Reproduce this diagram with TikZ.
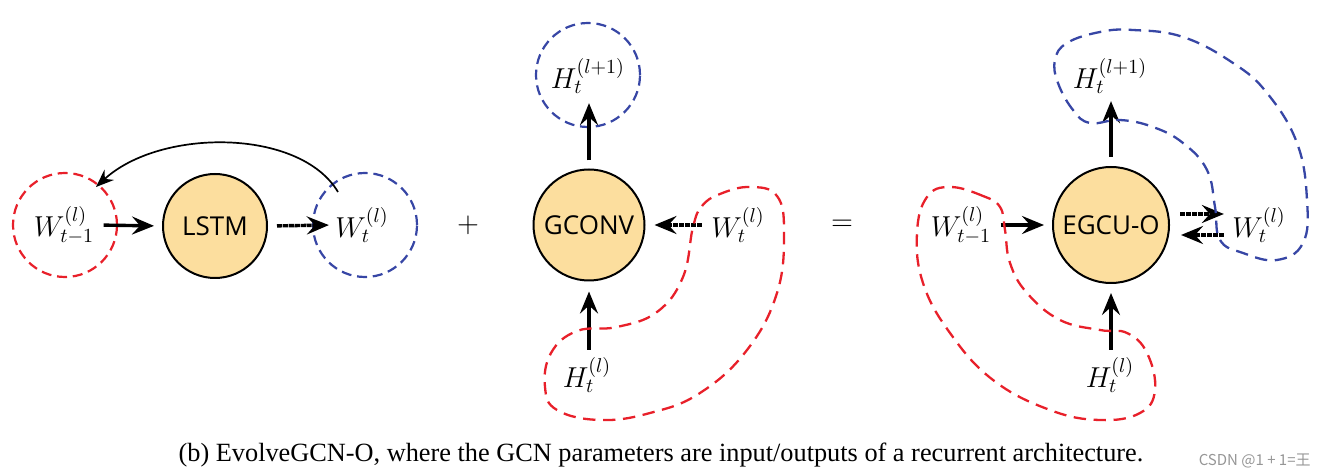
\documentclass[tikz,border=0pt]{standalone}
\usepackage[no-math]{fontspec}
\setmainfont{Liberation Serif}
\newfontfamily\nodefont{Open Sans}
\newfontfamily\cjkfont{Noto Sans CJK SC}
\usetikzlibrary{arrows.meta,calc}
\definecolor{dred}{RGB}{232,32,42}
\definecolor{dblue}{RGB}{55,70,165}
\definecolor{nfill}{RGB}{252,222,158}
\definecolor{wmgray}{RGB}{150,150,150}
\begin{document}
\begin{tikzpicture}[x=0.5pt,y=-0.5pt,
  proc/.style={circle, draw=black, line width=1pt, fill=nfill, inner sep=0pt,
    font=\nodefont\fontsize{13}{15}\selectfont},
  rcirc/.style={circle, draw=dred, line width=1.1pt, dash pattern=on 5pt off 2.9pt, minimum size=52pt, inner sep=0pt},
  bcirc/.style={circle, draw=dblue, line width=1.1pt, dash pattern=on 5pt off 2.9pt, minimum size=52pt, inner sep=0pt},
  rblob/.style={draw=dred, line width=1.15pt, dash pattern=on 6.2pt off 3.8pt},
  bblob/.style={draw=dblue, line width=1.15pt, dash pattern=on 6.2pt off 3.8pt},
  lbl/.style={font=\fontsize{14}{16}\selectfont, inner sep=0.5pt},
  arr/.style={line width=1.7pt, -{Stealth[length=11pt,width=9pt,inset=4pt]}},
  darr/.style={arr, dash pattern=on 2.6pt off 0.35pt},
  curv/.style={line width=0.85pt, -{Stealth[length=9pt,width=7pt,inset=3pt]}}
]
\useasboundingbox (0,0) rectangle (1327,475);

% ---------- left: LSTM ----------
\node[rcirc] (c1) at (65,225) {};
\node[lbl] (w1) at (64,225) {$W_{t-1}^{(l)}$};
\node[proc, minimum size=52pt] (lstm) at (215,226) {LSTM};
\node[bcirc] (c2) at (365,225) {};
\node[lbl] (w2) at (362,225) {$W_t^{(l)}$};

\draw[arr, shorten <=4pt, shorten >=4pt] (w1.east) -- (lstm.west);
\draw[darr, shorten <=4.5pt, shorten >=2.5pt] (lstm.east) -- (w2.west);
\draw[curv] ([shift={(-27,-33)}]c2.center) .. controls (300,128) and (160,128) .. ([shift={(31,-38)}]c1.center);

\node[font=\fontsize{14}{16}\selectfont] (plus) at (468,225) {$+$};

% ---------- middle: GCONV ----------
\node[bcirc] (c3) at (588,75) {};
\node[lbl] (h1) at (588,76) {$H_t^{(l+1)}$};
\node[proc, minimum size=55.5pt] (gconv) at (589,225) {GCONV};
\node[lbl] (h0) at (587,375) {$H_t^{(l)}$};
\node[lbl] (w3) at (738,225) {$W_t^{(l)}$};

\draw[arr, shorten <=4pt, shorten >=4pt] (gconv.north) -- (h1.south -| gconv.north);
\draw[arr, shorten <=3pt, shorten >=5pt] (h0.north -| gconv.south) -- (gconv.south);
\draw[darr, shorten <=4pt, shorten >=4.5pt] (w3.west) -- (gconv.east);

\draw[rblob] plot[smooth cycle, tension=0.7] coordinates {
  (693,227) (702,206) (720,194) (750,187) (777,196) (784,233) (777,293)
  (747,350) (700,393) (650,413) (600,420) (557,410) (545,387) (551,353)
  (577,331) (617,327) (657,312) (683,277)};

\node[font=\fontsize{14}{16}\selectfont] (eq) at (842,225) {$=$};

% ---------- right: EGCU-O ----------
\node[lbl] (w4) at (961,225) {$W_{t-1}^{(l)}$};
\node[proc, minimum size=58pt] (egcu) at (1111,225) {EGCU-O};
\node[lbl] (h3) at (1110,76) {$H_t^{(l+1)}$};
\node[lbl] (h2) at (1110,375) {$H_t^{(l)}$};
\node[lbl] (w5) at (1259,225) {$W_t^{(l)}$};

\draw[arr, shorten <=4pt, shorten >=4pt] (w4.east) -- (egcu.west);
\draw[arr, shorten <=4.5pt, shorten >=3pt] (egcu.north) -- (h3.south -| egcu.north);
\draw[arr, shorten <=3pt, shorten >=4.5pt] (h2.north -| egcu.south) -- (egcu.south);
\draw[darr, shorten <=5pt, shorten >=3.5pt] ([yshift=5.5pt]egcu.east) -- ([yshift=5.5pt]egcu.east -| w5.west);
\draw[darr, shorten <=3.5pt, shorten >=5.5pt] ([yshift=-5pt]egcu.east -| w5.west) -- ([yshift=-5pt]egcu.east);

\draw[bblob] plot[smooth cycle, tension=0.7] coordinates {
  (1090,123) (1073,110) (1058,83) (1055,60) (1067,43) (1100,32) (1133,30)
  (1183,37) (1233,63) (1267,93) (1297,143) (1307,200) (1303,243) (1277,260)
  (1243,253) (1220,240) (1215,207) (1207,170) (1183,143) (1153,127) (1120,120)};

\draw[rblob] plot[smooth cycle, tension=0.7] coordinates {
  (1000,207) (983,196) (950,187) (927,197) (917,233) (923,283) (950,333)
  (993,380) (1050,410) (1100,420) (1140,413) (1155,390) (1147,353) (1127,333)
  (1100,330) (1060,320) (1027,293) (1010,263) (1005,230)};

% ---------- caption ----------
\node[font=\fontsize{13.15}{15}\selectfont, inner sep=0pt] (cap) at (661,455)
  {(b) EvolveGCN-O, where the GCN parameters are input/outputs of a recurrent architecture.};
\node[font=\cjkfont\fontsize{7.5}{8.5}\selectfont, text=wmgray, inner sep=0pt, anchor=east] (wm) at (1311,461) {CSDN @1 + 1=王};
\end{tikzpicture}
\end{document}
